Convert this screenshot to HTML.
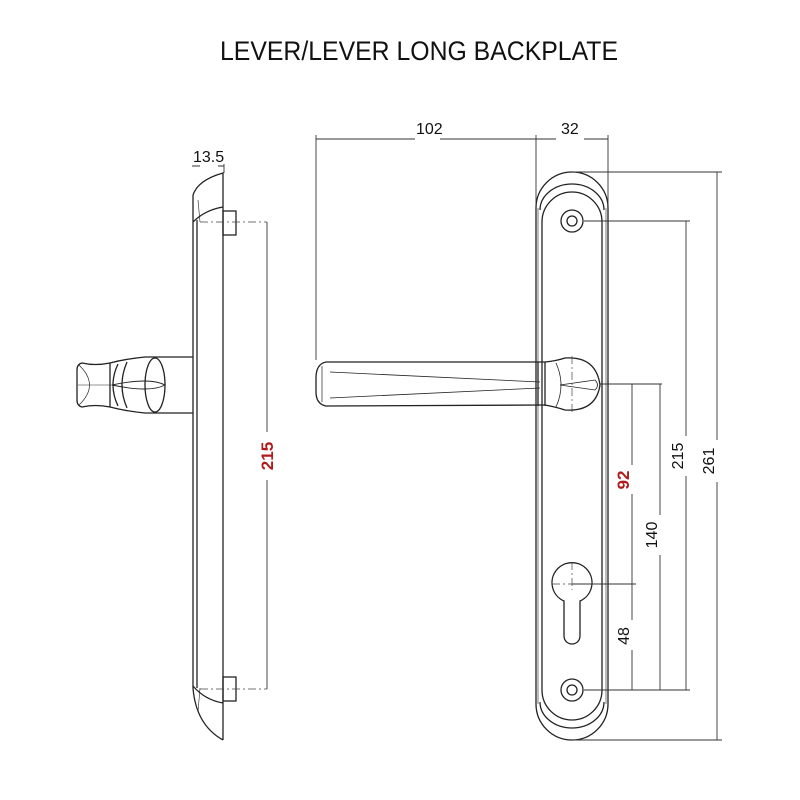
<!DOCTYPE html>
<html><head><meta charset="utf-8"><style>
html,body{margin:0;padding:0;background:#fff}
svg{display:block}
text{font-family:"Liberation Sans",sans-serif}
</style></head><body>
<svg width="800" height="800" viewBox="0 0 800 800" xmlns="http://www.w3.org/2000/svg">
<rect width="800" height="800" fill="#fff"/>
<text x="220" y="60" font-size="27" textLength="398" lengthAdjust="spacingAndGlyphs" fill="#111">LEVER/LEVER LONG BACKPLATE</text>

<g fill="none" stroke="#222" stroke-width="1.3">
<!-- SIDE VIEW -->
<path d="M193 195 Q198 180 223 173 L223 740"/>
<path d="M193 195 L193 688 Q196 725 223 740"/>
<line x1="197" y1="220" x2="197" y2="688"/>
<path d="M193 222 Q205 210 223 207"/>
<path d="M193 686 Q205 700 223 703"/>
<line x1="198" y1="200" x2="200" y2="222" stroke-width="0.6"/>
<line x1="198" y1="712" x2="200" y2="688" stroke-width="0.6"/>
<rect x="223" y="211" width="13" height="24"/>
<rect x="223" y="677" width="13" height="24"/>
<!-- side knob -->
<path d="M193 357 L145 357 Q125 359 110 363 L110 407 Q125 411 145 413 L193 413"/>
<path d="M110 363 Q95 366 82 363 Q77 364 77 370 L77 400 Q77 406 82 407 Q95 404 110 407"/>
<path d="M79 365 Q100 385 79 405" stroke-width="0.7"/>
<path d="M118 364 Q108 385 118 406"/>
<path d="M127 362 Q117 385 127 408"/>
<ellipse cx="155" cy="385" rx="10" ry="27"/>
<path d="M112 385 Q150 377 165 385 Q150 393 112 385" stroke-width="0.9"/>
<line x1="78" y1="385" x2="112" y2="385" stroke-width="0.6"/>

<!-- FRONT PLATE -->
<path d="M536 704 L536 208 A36 36 0 0 1 608 208 L608 704 A36 36 0 0 1 536 704"/>
<path d="M540 210 A32 26 0 0 1 604 210" />
<path d="M540 702 A32 26 0 0 0 604 702" />
<path d="M542 690 L542 222 A30 30 0 0 1 602 222 L602 690 A30 30 0 0 1 542 690"/>
<line x1="538" y1="208" x2="538" y2="704" stroke-width="0.6"/>
<line x1="606" y1="208" x2="606" y2="704" stroke-width="0.6"/>
<circle cx="572" cy="221" r="11"/><circle cx="572" cy="221" r="5"/>
<circle cx="572" cy="690" r="11"/><circle cx="572" cy="690" r="5"/>
<path d="M564 601 A20 20 0 1 1 580 601 L580 636 A8 8 0 0 1 564 636 Z"/>
<!-- lever -->
<path d="M545 362 L326 362 Q316 364 316 378 L316 392 Q316 404 326 406 L545 405"/>
<path d="M322 366 L322 402" stroke-width="0.7"/>
<path d="M330 372 L540 382 M330 398 L540 388" stroke-width="0.8"/>
<path d="M538 362 L538 406 M545 362 L545 406"/>
<path d="M545 362 Q556 361 565 358 Q596 356 600 385 Q596 412 565 410 Q556 407 545 405"/>
<path d="M556 363 Q566 385 556 407" stroke-width="0.8"/>
<path d="M560 385 L595 380 Q600 385 595 390 Z" stroke-width="0.8"/>
</g>

<!-- center dash lines -->
<g stroke="#444" stroke-width="0.7" stroke-dasharray="8 3 2 3" fill="none">
<line x1="200" y1="222" x2="267" y2="222"/>
<line x1="200" y1="689" x2="267" y2="689"/>
<line x1="572" y1="356" x2="572" y2="412"/>
<line x1="572" y1="562" x2="572" y2="590"/>
<line x1="552" y1="584" x2="592" y2="584"/>
</g>

<!-- dimension lines -->
<g stroke="#333" stroke-width="0.9" fill="none">
<line x1="316" y1="135" x2="316" y2="360"/>
<line x1="536" y1="135" x2="536" y2="205"/>
<line x1="608" y1="135" x2="608" y2="205"/>
<path d="M316 139 L415 139 M440 139 L536 139 M536 139 L556 139 M584 139 L608 139"/>
<path d="M192 166 L200 166 M218 166 L224 166 M224 164 L224 173"/>
<line x1="267" y1="222" x2="267" y2="432"/>
<line x1="267" y1="480" x2="267" y2="689"/>
<line x1="572" y1="172" x2="722" y2="172"/>
<line x1="584" y1="221" x2="690" y2="221"/>
<line x1="584" y1="690" x2="690" y2="690"/>
<line x1="572" y1="740" x2="722" y2="740"/>
<line x1="600" y1="384" x2="662" y2="384"/>
<line x1="572" y1="584" x2="636" y2="584"/>
<line x1="717" y1="172" x2="717" y2="440"/><line x1="717" y1="482" x2="717" y2="740"/>
<line x1="686" y1="221" x2="686" y2="436"/><line x1="686" y1="476" x2="686" y2="690"/>
<line x1="660" y1="384" x2="660" y2="515"/><line x1="660" y1="555" x2="660" y2="690"/>
<line x1="632" y1="384" x2="632" y2="465"/><line x1="632" y1="494" x2="632" y2="584"/>
<line x1="632" y1="584" x2="632" y2="620"/><line x1="632" y1="650" x2="632" y2="690"/>
</g>

<g fill="#111" font-size="16">
<text x="416" y="134">102</text>
<text x="561" y="134">32</text>
<text x="193" y="162">13.5</text>
<text transform="translate(714,461) rotate(-90)" text-anchor="middle">261</text>
<text transform="translate(683,456) rotate(-90)" text-anchor="middle">215</text>
<text transform="translate(657,535) rotate(-90)" text-anchor="middle">140</text>
<text transform="translate(629,636) rotate(-90)" text-anchor="middle">48</text>
</g>
<text transform="translate(629,480) rotate(-90)" text-anchor="middle" font-size="17" font-weight="bold" fill="#b01c1c">92</text>
<text transform="translate(273,456) rotate(-90)" text-anchor="middle" font-size="17" font-weight="bold" fill="#b01c1c">215</text>
</svg>
</body></html>
